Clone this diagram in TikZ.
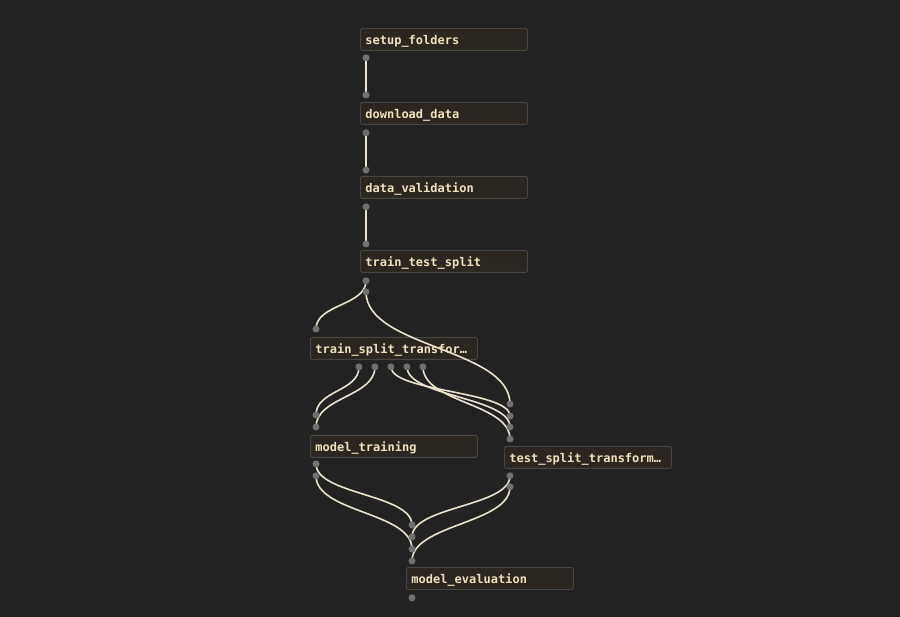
\documentclass[tikz,border=0pt]{standalone}
\usepackage{fontspec}
\usepackage{xcolor}
\usepackage{tikz}
\usetikzlibrary{positioning}
\newfontfamily\labelfont{DejaVu Sans Mono}

\definecolor{canvas}{RGB}{34,34,34}
\definecolor{boxfill}{RGB}{43,38,32}
\definecolor{boxline}{RGB}{72,70,66}
\definecolor{labeltext}{RGB}{240,226,188}
\definecolor{wirecol}{RGB}{236,226,206}
\definecolor{portcol}{RGB}{112,112,112}

\begin{document}
\begin{tikzpicture}[x=1pt, y=-1pt,
  task/.style={draw=boxline, fill=boxfill, text=labeltext, line width=0.8pt,
    rounded corners=1.5pt, anchor=north west, text width=157pt, align=left,
    minimum height=22pt, inner xsep=5pt, inner ysep=0pt,
    text height=10.5pt, text depth=0.5pt,
    font=\labelfont\bfseries\fontsize{12}{14}\selectfont},
  wire/.style={draw=wirecol, line width=1.6pt},
  port/.style={fill=portcol}]

  % background and page size
  \fill[canvas] (0,0) rectangle (900,617);
  \useasboundingbox (0,0) rectangle (900,617);

  % ===== task boxes =====
  \node[task] (setup)      at (360,28)  {setup\_folders};
  \node[task] (download)   at (360,102) {download\_data};
  \node[task] (valid)      at (360,176) {data\_validation};
  \node[task] (ttsplit)    at (360,250) {train\_test\_split};
  \node[task] (trainsplit) at (310,337) {train\_split\_transfor…};
  \node[task] (training)   at (310,435) {model\_training};
  \node[task] (testsplit)  at (504,446) {test\_split\_transform…};
  \node[task] (evaluation) at (406,567) {model\_evaluation};

  % ===== ports =====
  % inputs (above the box)
  \foreach \n/\k/\dy in {download/1/7, valid/1/6, ttsplit/1/6, trainsplit/1/8,
      training/1/20, training/2/8,
      testsplit/1/42, testsplit/2/30, testsplit/3/19, testsplit/4/7,
      evaluation/1/42, evaluation/2/30, evaluation/3/18, evaluation/4/6}
    \coordinate (\n-i\k) at ([xshift=6pt, yshift=\dy pt]\n.north west);
  % outputs (below the box)
  \foreach \n/\k/\dy in {setup/1/7, download/1/8, valid/1/8,
      ttsplit/1/8, ttsplit/2/19, training/1/6, training/2/18,
      testsplit/1/7, testsplit/2/18, evaluation/1/8}
    \coordinate (\n-o\k) at ([xshift=6pt, yshift=-\dy pt]\n.south west);
  % train_split_transform outputs sit in a row
  \foreach \k/\dx in {1/49, 2/65, 3/81, 4/97, 5/113}
    \coordinate (trainsplit-o\k) at ([xshift=\dx pt, yshift=-7pt]trainsplit.south west);

  % ===== connectors =====
  \draw[wire] (setup-o1) -- (download-i1);
  \draw[wire] (download-o1) -- (valid-i1);
  \draw[wire] (valid-o1) -- (ttsplit-i1);

  \draw[wire] (ttsplit-o1) .. controls +(0,25) and +(0,-25) .. (trainsplit-i1);
  \draw[wire] (ttsplit-o2) .. controls +(0,56) and +(0,-56) .. (testsplit-i1);

  \draw[wire] (trainsplit-o1) .. controls +(0,25) and +(0,-25) .. (training-i1);
  \draw[wire] (trainsplit-o2) .. controls +(0,30) and +(0,-30) .. (training-i2);
  \draw[wire] (trainsplit-o3) .. controls +(0,25) and +(0,-25) .. (testsplit-i2);
  \draw[wire] (trainsplit-o4) .. controls +(0,30) and +(0,-30) .. (testsplit-i3);
  \draw[wire] (trainsplit-o5) .. controls +(0,36) and +(0,-36) .. (testsplit-i4);

  \draw[wire] (training-o1) .. controls +(0,31) and +(0,-31) .. (evaluation-i1);
  \draw[wire] (testsplit-o1) .. controls +(0,31) and +(0,-31) .. (evaluation-i2);
  \draw[wire] (training-o2) .. controls +(0,37) and +(0,-37) .. (evaluation-i3);
  \draw[wire] (testsplit-o2) .. controls +(0,37) and +(0,-37) .. (evaluation-i4);

  % port dots on top
  \foreach \p in {download-i1, valid-i1, ttsplit-i1, trainsplit-i1,
      training-i1, training-i2, testsplit-i1, testsplit-i2, testsplit-i3,
      testsplit-i4, evaluation-i1, evaluation-i2, evaluation-i3, evaluation-i4,
      setup-o1, download-o1, valid-o1, ttsplit-o1, ttsplit-o2,
      trainsplit-o1, trainsplit-o2, trainsplit-o3, trainsplit-o4, trainsplit-o5,
      training-o1, training-o2, testsplit-o1, testsplit-o2, evaluation-o1}
    \fill[port] (\p) circle (3.5pt);
\end{tikzpicture}
\end{document}
